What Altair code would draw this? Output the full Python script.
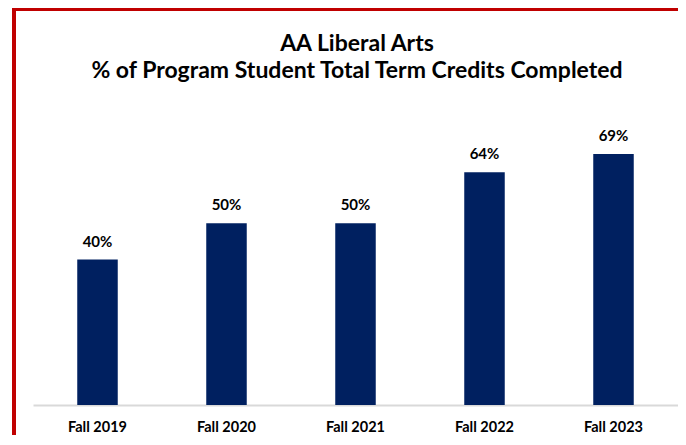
import altair as alt
import pandas as pd

terms = ["Fall 2019", "Fall 2020", "Fall 2021", "Fall 2022", "Fall 2023"]
pct = [0.40, 0.50, 0.50, 0.64, 0.69]
title_lines = ["AA Liberal Arts", "% of Program Student Total Term Credits Completed"]

df = pd.DataFrame({"term": terms, "pct": pct})

W, H = 645, 291
FONT = "Lato"
NAVY = "#002060"
RED = "#C00000"

x = alt.X(
    "term:N", sort=terms, title=None,
    scale=alt.Scale(paddingInner=0.686, paddingOuter=0.343),
    axis=alt.Axis(labelAngle=0, labelFont=FONT, labelFontSize=14.5, labelFontWeight="bold",
                  labelColor="black", labelPadding=26, labelBaseline="alphabetic",
                  ticks=False, tickSize=0, domainColor="#D9D9D9", domainWidth=2, grid=False),
)
y = alt.Y("pct:Q", scale=alt.Scale(domain=[0, 0.8]), axis=None)

base = alt.Chart(df)
bars = base.mark_bar(color=NAVY).encode(x=x, y=y)
labels = base.mark_text(font=FONT, fontSize=15, fontWeight="bold", color="black",
                        baseline="alphabetic", dy=-13).encode(
    x=x, y=y, text=alt.Text("pct:Q", format=".0%"))

t1 = alt.Chart(pd.DataFrame({"t": [title_lines[0]]})).mark_text(
    font=FONT, fontSize=23, fontWeight="bold", color="black", align="center", baseline="alphabetic"
).encode(x=alt.value(324), y=alt.value(-63), text="t:N")
t2 = alt.Chart(pd.DataFrame({"t": [title_lines[1]]})).mark_text(
    font=FONT, fontSize=23, fontWeight="bold", color="black", align="center", baseline="alphabetic"
).encode(x=alt.value(324), y=alt.value(-36), text="t:N")

one = pd.DataFrame({"k": [0]})
red_top = alt.Chart(one).mark_rule(color=RED, strokeWidth=4).encode(
    x=alt.value(-21), x2=alt.value(W), y=alt.value(-105))
red_left = alt.Chart(one).mark_rule(color=RED, strokeWidth=4).encode(
    x=alt.value(-19), y=alt.value(-107), y2=alt.value(321))

chart = alt.layer(bars, labels, t1, t2, red_top, red_left).properties(
    width=W, height=H,
    autosize=alt.AutoSizeParams(type="none"),
    padding={"left": 25, "top": 106, "right": 0, "bottom": 30},
).configure_view(stroke=None)

chart.save("out.html", embed_options={"renderer": "svg", "actions": False})
